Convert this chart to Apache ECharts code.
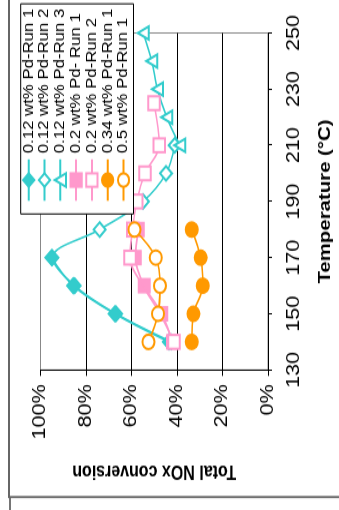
<!DOCTYPE html>
<html><head><meta charset="utf-8">
<script src="https://cdn.jsdelivr.net/npm/echarts@6/dist/echarts.min.js"></script>
<style>
html,body{margin:0;padding:0;width:339px;height:510px;overflow:hidden;background:#fff;}
#chart{position:absolute;left:0;top:0;width:425px;height:339px;transform-origin:0 0;transform:translate(0px,510px) scaleY(1.2) rotate(-90deg);}
</style></head><body><div id="chart"></div>
<script>
// Data (temperature in °C, total NOx conversion in %)
const t012r1 = [140,150,160,170];
const v012r1 = [43.5,67.3,85.6,95.1];
const t012r2 = [140,150,160,170,180,190,200,210];
const v012r2 = [42.5,66.8,85,94.8,74,55,44.8,41];
const t012r3 = [210,220,230,240,250];
const v012r3 = [38.8,44.5,48.6,51.1,54.8];
const t02r1 = [140,150,160,170,180];
const v02r1 = [42,46.7,54.4,58.3,57];
const t02r2 = [140,150,160,170,180,190,200,210,225];
const v02r2 = [41.3,47.5,55,60.7,59.5,57.7,54.1,47.8,50.1];
const t034r1 = [140,150,160,170,180];
const v034r1 = [33.5,32.8,28.7,29.6,33.5];
const t05r1 = [140,150,160,170,180];
const v05r1 = [52.5,48.3,47.5,49.3,58.7];
// markers hidden under overlapping marks in the picture
const hidden02r2 = [150,160];
const seriesNames = ['0.12 wt% Pd-Run 1','0.12 wt% Pd-Run 2','0.12 wt% Pd-Run 3','0.2 wt% Pd- Run 1','0.2 wt% Pd-Run 2','0.34 wt% Pd-Run 1','0.5 wt% Pd-Run 1'];
const tempTicks = [130,150,170,190,210,230,250];
const convTicks = [0,20,40,60,80,100];

const CYAN='#33CCCC', PINK='#FF99CC', ORANGE='#FF9900';
const FONT='Liberation Sans, Arial, sans-serif';
function pairs(t,v,hid){return t.map((x,i)=> (hid && hid.includes(x)) ? {value:[x,v[i]], symbol:'none'} : [x,v[i]]);}
function mk(name,t,v,color,symbol,size,z,hid){
  return {name, type:'line', data:pairs(t,v,hid), smooth:0.35, symbol, symbolSize:size, z,
    lineStyle:{color, width:1.6}, itemStyle:{color, borderColor:color, borderWidth:1.5},
    emphasis:{disabled:true}};
}
const chart = echarts.init(document.getElementById('chart'), null, {renderer:'canvas'});
chart.setOption({
  animation:false,
  backgroundColor:'#fff',
  textStyle:{fontFamily:FONT},
  grid:{left:116.7, right:27.5, top:40.5, bottom:71, show:true, borderColor:'#888', borderWidth:1, backgroundColor:'#fff'},
  xAxis:{type:'value', min:tempTicks[0], max:tempTicks[tempTicks.length-1], interval:20,
    name:'Temperature (°C)', nameLocation:'middle', nameGap:49,
    nameTextStyle:{fontSize:17, fontWeight:'bold', color:'#000', fontFamily:FONT},
    axisLine:{show:true, lineStyle:{color:'#000', width:1}},
    axisTick:{show:true, inside:false, length:4, lineStyle:{color:'#000'}},
    axisLabel:{fontSize:18, color:'#000', margin:17, fontFamily:FONT},
    splitLine:{show:false}},
  yAxis:{type:'value', min:convTicks[0], max:convTicks[convTicks.length-1], interval:20,
    name:'Total NOx conversion', nameLocation:'middle', nameGap:76,
    nameTextStyle:{fontSize:16, fontWeight:'bold', color:'#000', fontFamily:FONT},
    axisLine:{show:true, lineStyle:{color:'#000', width:1}},
    axisTick:{show:true, inside:false, length:5, lineStyle:{color:'#000'}},
    axisLabel:{fontSize:18, color:'#000', margin:12, formatter:'{value}%', fontFamily:FONT},
    splitLine:{show:true, lineStyle:{color:['#000','#000','#000','#000','#000','#888'], width:1}}},
  legend:{orient:'vertical', left:246.7, top:20.7, selectedMode:false, z:10,
    itemWidth:34.5, itemHeight:14, itemGap:1.8, padding:[1,4,3,10],
    backgroundColor:'#fff', borderColor:'#000', borderWidth:1,
    textStyle:{fontSize:14, color:'#000', fontFamily:FONT},
    data:seriesNames},
  graphic:[
    {type:'rect', z:-10, shape:{x:10.8, y:9, width:600, height:600}, style:{fill:'none', stroke:'#666', lineWidth:1.8}},
    {type:'line', z:-10, shape:{x1:-10, y1:10, x2:10.8, y2:10}, style:{stroke:'#666', lineWidth:1.8}}
  ],
  series:[
    mk(seriesNames[0], t012r1, v012r1, CYAN, 'diamond', 13, 4),
    mk(seriesNames[1], t012r2, v012r2, CYAN, 'emptyDiamond', 12, 3),
    mk(seriesNames[2], t012r3, v012r3, CYAN, 'emptyTriangle', 11, 3),
    mk(seriesNames[3], t02r1, v02r1, PINK, 'rect', 11.5, 4),
    mk(seriesNames[4], t02r2, v02r2, PINK, 'emptyRect', 11.5, 5, hidden02r2),
    mk(seriesNames[5], t034r1, v034r1, ORANGE, 'circle', 12.5, 6),
    mk(seriesNames[6], t05r1, v05r1, ORANGE, 'emptyCircle', 12, 6)
  ]
});
</script></body></html>
